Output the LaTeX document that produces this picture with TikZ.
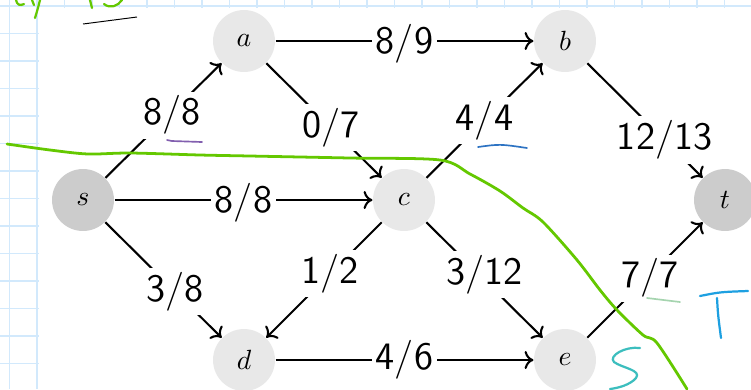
\documentclass[tikz,border=0pt]{standalone}
\usepackage{tikz}
\usetikzlibrary{arrows.meta}

\definecolor{gridblue}{RGB}{210,233,252}
\definecolor{vlight}{RGB}{232,232,232}
\definecolor{vdark}{RGB}{204,204,204}
\definecolor{cutgreen}{RGB}{100,200,0}
\definecolor{penpurple}{RGB}{130,95,175}
\definecolor{penblue}{RGB}{45,115,195}
\definecolor{penpale}{RGB}{165,212,175}
\definecolor{pencyan}{RGB}{30,160,225}
\definecolor{penteal}{RGB}{60,190,190}

\begin{document}
\begin{tikzpicture}[
  x=0.36pt, y=-0.36pt,
  vtx/.style={circle, fill=vlight, inner sep=0pt, minimum size=22.3pt},
  term/.style={vtx, fill=vdark},
  flw/.style={-{To[length=3.2pt, width=6.5pt]}, line width=0.75pt},
  lbl/.style={fill=white, inner sep=1.5pt, font=\fontsize{14}{14}\selectfont\sffamily},
  gridline/.style={draw=gridblue, line width=0.7pt},
  pen/.style={line width=0.8pt, line cap=round, line join=round}
]
\useasboundingbox (0,0) rectangle (751,389);
\clip (0,0) rectangle (751,389);

% graph paper
\foreach \k in {0,...,27} \draw[gridline] ({9.5+27.5*\k},0) -- ({9.5+27.5*\k},389);
\foreach \k in {0,...,14} \draw[gridline] (0,{6+27.5*\k}) -- (751,{6+27.5*\k});
\fill[white] (38.5,7.5) rectangle (751,389);

% vertices
\node[term] (s) at (83,200)  {$s$};
\node[vtx]  (a) at (244,41)  {$a$};
\node[vtx]  (b) at (565,41)  {$b$};
\node[vtx]  (c) at (404,200) {$c$};
\node[term] (t) at (725,200) {$t$};
\node[vtx]  (d) at (244,360) {$d$};
\node[vtx]  (e) at (565,360) {$e$};

% flow / capacity
\draw[flw] (a) -- node[lbl, yshift=-1pt] {8/9} (b);
\draw[flw] (s) -- node[lbl, pos=0.57, yshift=-1pt] {8/8} (a);
\draw[flw] (a) -- node[lbl, pos=0.56] {0/7} (c);
\draw[flw] (c) -- node[lbl] {4/4} (b);
\draw[flw] (b) -- node[lbl, pos=0.67] {12/13} (t);
\draw[flw] (s) -- node[lbl, yshift=-1pt] {8/8} (c);
\draw[flw] (s) -- node[lbl, pos=0.6] {3/8} (d);
\draw[flw] (c) -- node[lbl, pos=0.445] {1/2} (d);
\draw[flw] (c) -- node[lbl, yshift=2pt] {3/12} (e);
\draw[flw] (d) -- node[lbl] {4/6} (e);
\draw[flw] (e) -- node[lbl, pos=0.54, yshift=-1pt] {7/7} (t);

% the cut
\draw[pen, cutgreen, line width=1pt] plot[smooth, tension=0.5] coordinates {
  (7,144) (50,150) (88,154) (130,153) (200,155) (250,156) (350,158) (440,160)
  (470,174) (500,191) (523,208) (543,222) (577,260) (600,290) (617,310)
  (643,335) (657,343) (687,389)};

% pen marks
\draw[pen, cutgreen] (16,0) .. controls (17,5) and (20,6) .. (24,4);
\draw[pen, cutgreen] (32,0) -- (34,5);
\draw[pen, cutgreen] (40,0) .. controls (38,8) .. (35,18);
\draw[pen, cutgreen] (90,0) -- (92,8);
\draw[pen, cutgreen] (104,4) .. controls (110,9) and (118,6) .. (122,0);
\draw[line width=0.35pt] (83,24) -- (137,17);
\draw[pen, penpurple, line width=0.6pt] (167,140) -- (172,141) -- (202,142);
\draw[pen, penblue, line width=0.6pt] (478,147) .. controls (500,144) .. (527,148);
\draw[pen, penpale, line width=0.6pt] (647,298) -- (680,302);
\draw[pen, pencyan] (700,296) .. controls (720,292) .. (748,291);
\draw[pen, pencyan] (717,298) .. controls (718,315) .. (721,338);
\draw[pen, penteal] (640,348) .. controls (625,346) and (608,356) .. (614,362)
  .. controls (622,368) and (642,370) .. (636,378)
  .. controls (630,385) and (618,388) .. (610,389);

\end{tikzpicture}
\end{document}
